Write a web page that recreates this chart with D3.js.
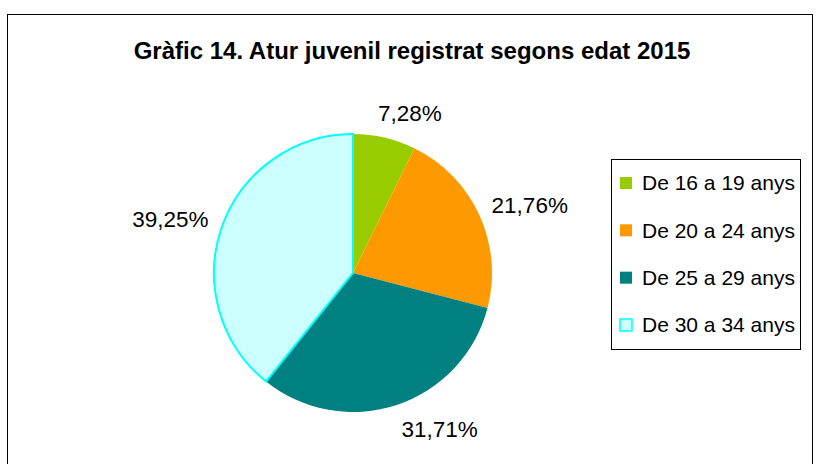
<!DOCTYPE html>
<html>
<head>
<meta charset="utf-8">
<script src="https://cdn.jsdelivr.net/npm/d3@7"></script>
<style>
  body { margin: 0; background: #fff; }
  svg text { font-family: "Liberation Sans", Arial, sans-serif; }
</style>
</head>
<body>
<svg id="chart" width="819" height="464"></svg>
<script>
var categories = ["De 16 a 19 anys", "De 20 a 24 anys", "De 25 a 29 anys", "De 30 a 34 anys"];
var values = [7.28, 21.76, 31.71, 39.25];
var labels = ["7,28%", "21,76%", "31,71%", "39,25%"];
var fills = ["#99CC00", "#FF9900", "#008080", "#CCFFFF"];
var strokes = ["none", "none", "none", "#00FFFF"];

var svg = d3.select("#chart");

// outer frame
svg.append("rect")
  .attr("x", 7.5).attr("y", 14.5)
  .attr("width", 805).attr("height", 460)
  .attr("fill", "none").attr("stroke", "#000").attr("stroke-width", 1);

svg.append("text")
  .attr("x", 412).attr("y", 59)
  .attr("text-anchor", "middle")
  .style("font-size", "24px").style("font-weight", "bold")
  .text("Gràfic 14. Atur juvenil registrat segons edat 2015");

var cx = 353, cy = 273, r = 139;
var data = categories.map(function(c, i) { return { key: c, value: values[i], label: labels[i], i: i }; });

var pie = d3.pie().sort(null).value(function(d) { return d.value; });
var arc = d3.arc().innerRadius(0).outerRadius(r);

var g = svg.append("g").attr("transform", "translate(" + cx + "," + cy + ")");
var arcs = pie(data);

g.selectAll("path").data(arcs).enter().append("path")
  .attr("d", arc)
  .attr("fill", function(d) { return fills[d.data.i]; })
  .attr("stroke", function(d) { return strokes[d.data.i]; })
  .attr("stroke-width", 2);

// labels outside end, pushed out so the box sits beside the anchor point
var labelR = 154;
g.selectAll("text.lbl").data(arcs).enter().append("text")
  .attr("class", "lbl")
  .attr("text-anchor", "middle")
  .attr("dy", "0.35em")
  .style("font-size", "22.5px")
  .text(function(d) { return d.data.label; })
  .each(function(d) {
    var a = (d.startAngle + d.endAngle) / 2;
    var w = this.getComputedTextLength(), h = 20;
    var s = Math.sin(a), c = Math.cos(a);
    var k = c < 0 ? 1 : 0.6 + 0.4 * Math.abs(s);
    var x = labelR * s + (s > 0 ? 1 : -1) * w / 2 * k;
    var y = -labelR * c - c * h / 2;
    d3.select(this).attr("x", x).attr("y", y);
  });

// legend
var lg = svg.append("g");
lg.append("rect")
  .attr("x", 611.5).attr("y", 159.5)
  .attr("width", 189).attr("height", 190)
  .attr("fill", "#fff").attr("stroke", "#000");

var rowY = d3.scalePoint().domain(categories).range([183, 325]);
var rows = lg.selectAll("g.row").data(data).enter().append("g")
  .attr("class", "row")
  .attr("transform", function(d) { return "translate(0," + rowY(d.key) + ")"; });
rows.append("rect")
  .attr("x", 620).attr("y", -6)
  .attr("width", 12).attr("height", 12)
  .attr("fill", function(d) { return fills[d.i]; })
  .attr("stroke", function(d) { return strokes[d.i]; })
  .attr("stroke-width", 1.5);
rows.append("text")
  .attr("x", 642).attr("y", 0)
  .attr("dy", "0.35em")
  .style("font-size", "21px")
  .text(function(d) { return d.key; });
</script>
</body>
</html>
